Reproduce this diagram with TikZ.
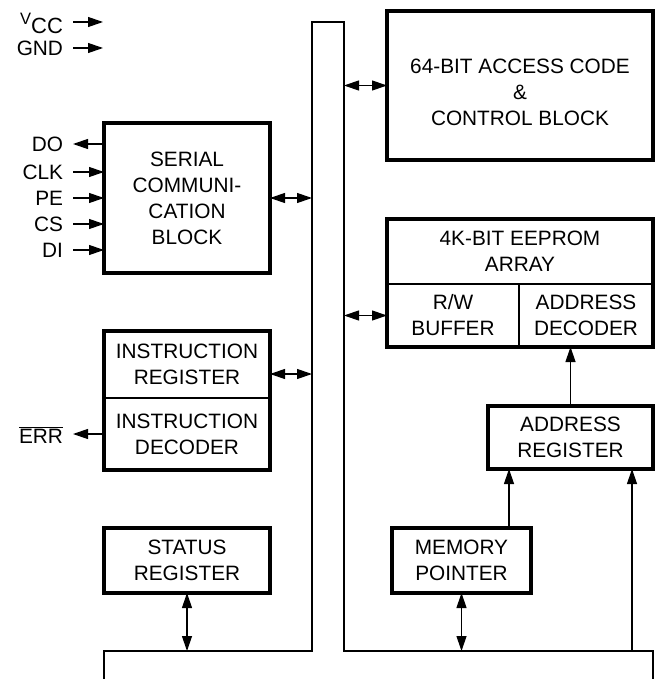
\documentclass[tikz,border=0pt]{standalone}
\usepackage{fontspec}
\setmainfont{Liberation Sans}
\usetikzlibrary{arrows.meta}

\begin{document}
\begin{tikzpicture}[x=1pt,y=-1pt,
  font=\fontsize{20.8}{26}\selectfont,
  block/.style={align=center,inner sep=0pt,outer sep=0pt},
  frame/.style={line width=3.2pt},
  divider/.style={line width=1.2pt},
  bus/.style={line width=1.3pt},
  pinlabel/.style={inner sep=0pt,outer sep=10pt,anchor=east},
  sig/.style={line width=1.2pt,-{Triangle[length=15pt,width=10pt]}},
  sigboth/.style={line width=1.2pt,{Triangle[length=15pt,width=10pt]}-{Triangle[length=15pt,width=10pt]}}]

\useasboundingbox (0,0) rectangle (657,679);

%% - Draw bus
%% - --------------------------------------

\coordinate (busTL) at (312,22);
\coordinate (busTR) at (344,22);
\coordinate (busBL) at (312,651);
\coordinate (busBR) at (344,651);
\draw[bus] (104,679) -- (104,651) -- (busBL) -- (busTL) -- (busTR) -- (busBR) -- (653,651) -- (653,679);

%% - Draw blocks
%% - --------------------------------------

\node[block,minimum width=166pt,minimum height=150pt] (serial) at (187,198) {SERIAL\\COMMUNI-\\CATION\\BLOCK};
\node[block,minimum width=266pt,minimum height=149pt,
  label={[align=center,yshift=-6.5pt]center:{64-BIT ACCESS CODE\\\&\\CONTROL BLOCK}}] (access) at (520,85.5) {};

%% - eeprom array
\node[block,minimum width=266pt,minimum height=65pt] (array) at (520,251.5) {4K-BIT EEPROM\\ARRAY};
\node[block,minimum width=132pt,minimum height=63pt] (rwbuf) at (453,315.5) {R/W\\BUFFER};
\node[block,minimum width=134pt,minimum height=63pt] (addrdec) at (586,315.5) {ADDRESS\\DECODER};
\draw[divider] (array.south west) -- (array.south east);
\draw[divider] (rwbuf.north east) -- (rwbuf.south east);

%% - instruction register and decoder
\node[block,minimum width=166pt,minimum height=67pt] (instreg) at (187,364.5) {INSTRUCTION\\REGISTER};
\node[block,minimum width=166pt,minimum height=72pt] (instdec) at (187,434) {INSTRUCTION\\DECODER};
\draw[divider] (instreg.south west) -- (instreg.south east);

\node[block,minimum width=166pt,minimum height=65pt] (status) at (187,560.5) {STATUS\\REGISTER};
\node[block,minimum width=165pt,minimum height=63pt] (addrreg) at (570.5,437.5) {ADDRESS\\REGISTER};
\node[block,minimum width=139pt,minimum height=65pt] (mempoint) at (461.5,560.5) {MEMORY\\POINTER};

%% - heavy outlines
\draw[frame] (serial.north west) rectangle (serial.south east);
\draw[frame] (access.north west) rectangle (access.south east);
\draw[frame] (array.north west) rectangle (addrdec.south east);
\draw[frame] (instreg.north west) rectangle (instdec.south east);
\draw[frame] (status.north west) rectangle (status.south east);
\draw[frame] (addrreg.north west) rectangle (addrreg.south east);
\draw[frame] (mempoint.north west) rectangle (mempoint.south east);

%% - Draw pins
%% - --------------------------------------

\node[pinlabel] (pinVCC) at (73,23) {{\fontsize{16.5}{16.5}\selectfont\raisebox{9pt}{V}}{\fontsize{22}{26}\selectfont CC}};
\node[pinlabel] (pinGND) at (73,48) {GND};
\coordinate (vccend) at (103,22);
\coordinate (gndend) at (103,48);
\draw[sig] (pinVCC.east |- vccend) -- (vccend);
\draw[sig] (pinGND.east) -- (gndend);

\node[pinlabel] (pinDO) at (73,144) {DO};
\draw[sig] (pinDO.east -| serial.west) -- (pinDO.east);
\foreach \pin/\ypos in {CLK/172,PE/198,CS/224,DI/250}{
  \node[pinlabel] (pin\pin) at (73,\ypos) {\pin};
  \draw[sig] (pin\pin.east) -- (pin\pin.east -| serial.west);
}

\node[pinlabel] (pinERR) at (73,435) {$\overline{\mbox{ERR}}$};
\draw[sig] (instdec.west) -- (instdec.west -| pinERR.east);

%% - Draw arrows to bus
%% - --------------------------------------

\draw[sigboth] (serial.east) -- (serial.east -| busTL);
\draw[sigboth] (access.west -| busTR) -- (access.west);
\draw[sigboth] (rwbuf.west -| busTR) -- (rwbuf.west);
\draw[sigboth] ([yshift=-9.5pt]instreg.east) -- ([yshift=-9.5pt]instreg.east -| busTL);
\draw[sigboth] (status.south) -- (status.south |- busBL);
\draw[sigboth] (mempoint.south) -- (mempoint.south |- busBR);

%% - address path
\coordinate (tap) at (632,651);
\draw[sig] (tap) -- (tap |- addrreg.south);
\draw[sig] ([xshift=47.5pt]mempoint.north) -- ([xshift=47.5pt]mempoint.north |- addrreg.south);
\draw[sig] (addrreg.north) -- (addrreg.north |- addrdec.south);

\end{tikzpicture}
\end{document}
